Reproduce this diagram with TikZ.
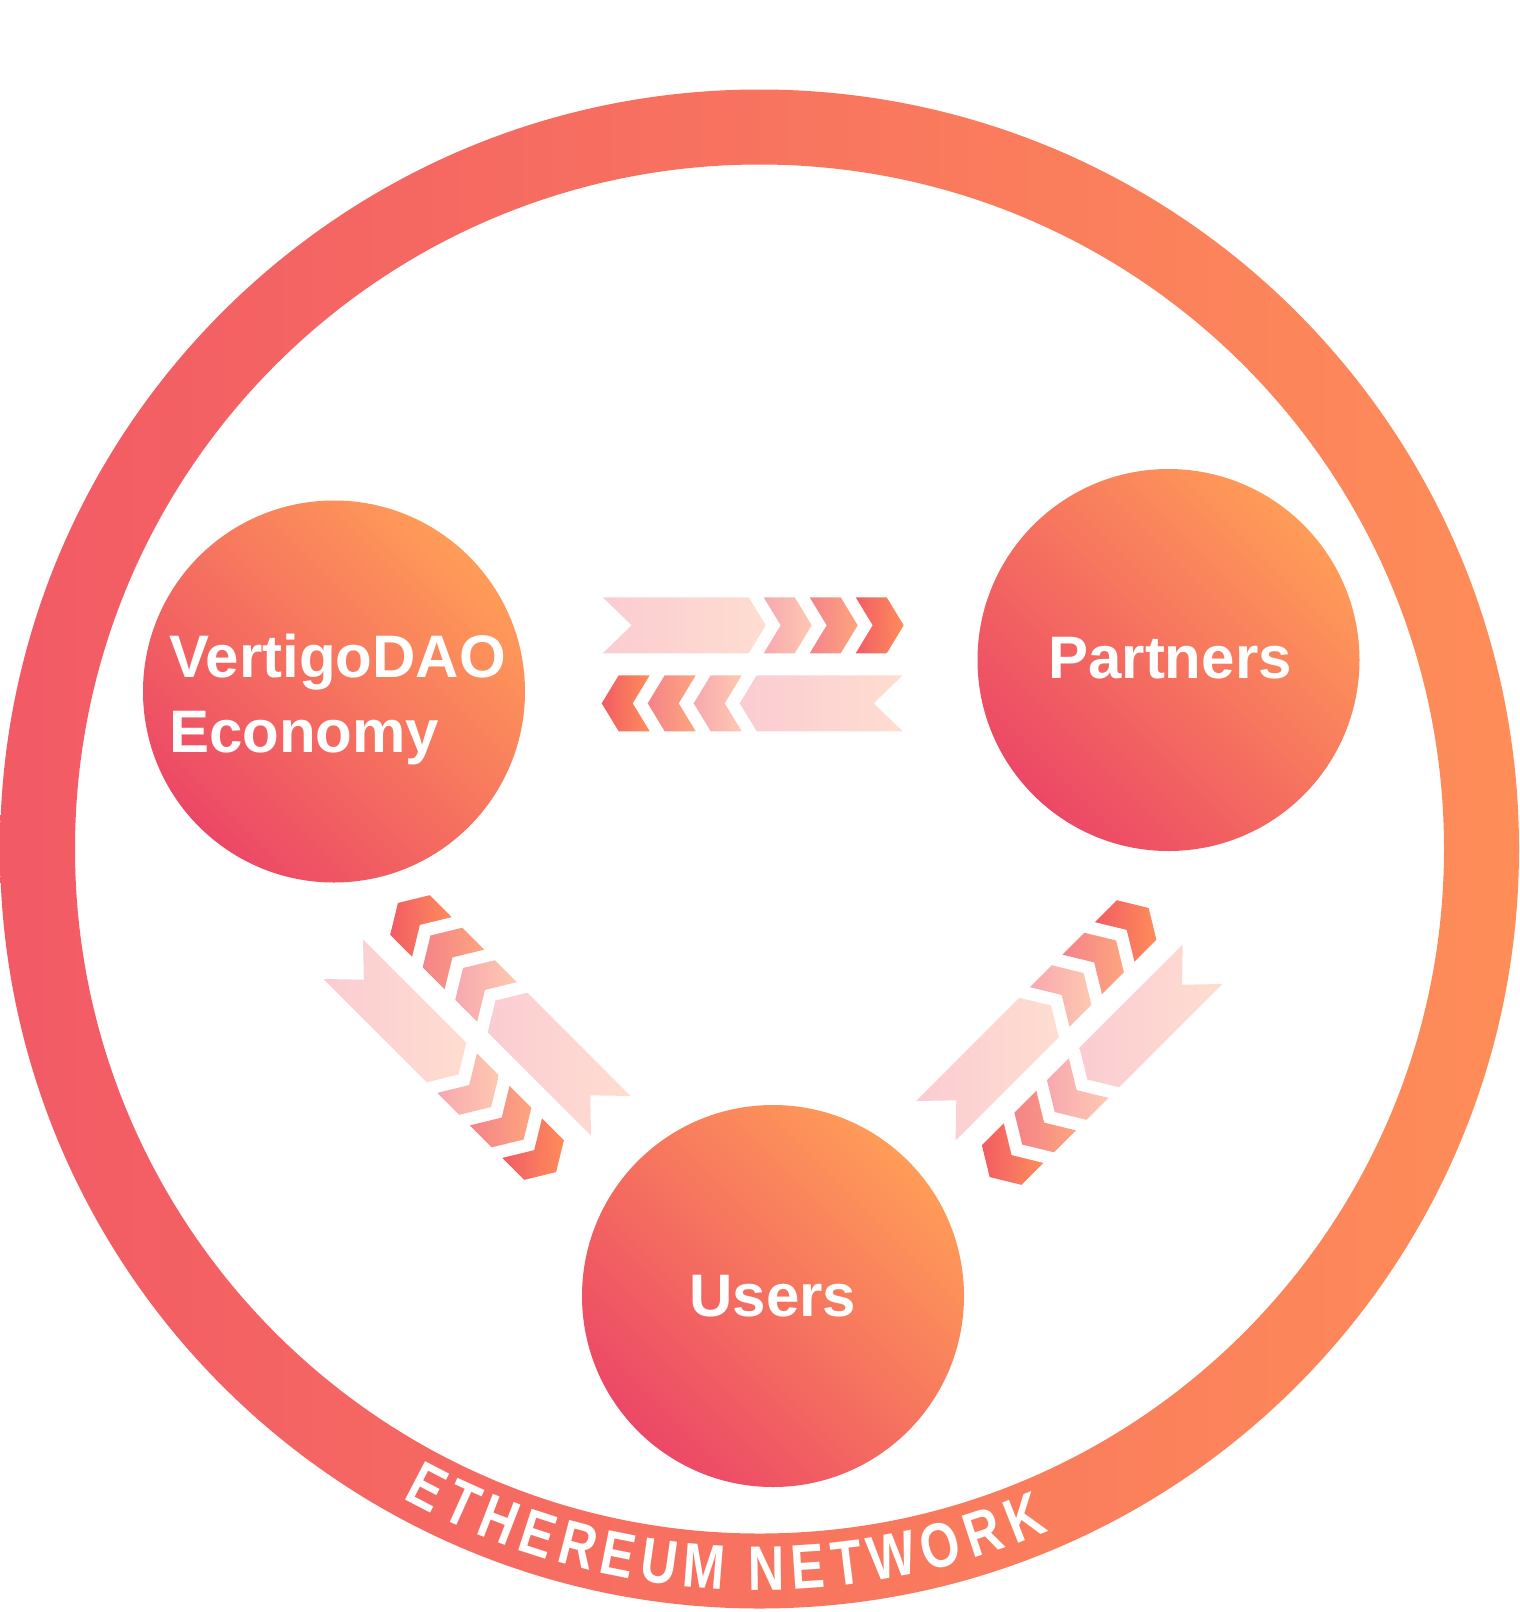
\documentclass[tikz,border=0pt]{standalone}
\usepackage{fontspec}
\setmainfont{Liberation Sans}
\newfontfamily\ringfont[FakeStretch=0.8]{Liberation Sans Bold}
\usetikzlibrary{positioning}
\definecolor{ringL}{HTML}{F25A66}
\definecolor{ringR}{HTML}{FE8D58}
\definecolor{hubL}{HTML}{EC4866}
\definecolor{hubR}{HTML}{FF9C58}
\definecolor{bandL}{HTML}{FBCCD2}
\definecolor{bandR}{HTML}{FEDDD0}
\definecolor{chevAL}{HTML}{F7A8AF}
\definecolor{chevAR}{HTML}{FEC8B0}
\definecolor{chevBL}{HTML}{F5838A}
\definecolor{chevBR}{HTML}{FDA57E}
\definecolor{chevCL}{HTML}{F25C64}
\definecolor{chevCR}{HTML}{FE8D5A}
\newcommand{\flowband}[2]{%
  \begin{scope}[shift={#1}, rotate=#2]
    \shade[band] (0,-28) -- (146,-28) -- (163,0) -- (146,28) -- (0,28) -- (29,0) -- cycle;
    \foreach \k/\cl/\cr in {0/chevAL/chevAR, 1/chevBL/chevBR, 2/chevCL/chevCR}
      \shade[left color=\cl, right color=\cr] ({161+46*\k},-28) -- ++(31,0) -- ++(17,28)
        -- ++(-17,28) -- ++(-31,0) -- ++(17,-28) -- cycle;
  \end{scope}}

\begin{document}
\begin{tikzpicture}[x=1pt, y=-1pt]
\tikzstyle{hub}=[circle, minimum size=382pt, inner sep=0pt, left color=hubL, right color=hubR,
  shading angle=135]
\tikzstyle{hubtext}=[text=white, inner sep=0pt, font=\bfseries\fontsize{60}{75}\selectfont]
\tikzstyle{ring}=[even odd rule, left color=ringL, right color=ringR]
\tikzstyle{ringletter}=[text=white, inner sep=0pt, anchor=base, font=\ringfont\fontsize{63}{63}\selectfont]
\tikzstyle{band}=[left color=bandL, right color=bandR]
  \useasboundingbox (0,0) rectangle (1519,1612);
  \coordinate (net) at (759.5,849);
  \shade[ring] (net) circle[radius=759.5] (net) circle[radius=684.5];
  \foreach \ch/\ang [count=\i] in {E/117.49, T/114.39, H/111.19, E/107.89, R/104.59, E/101.30,
      U/98.00, M/94.42, N/89.43, E/86.13, T/83.02, W/79.40, O/75.45, R/71.90, K/68.40}
    \path (net) ++(\ang:741) node[ringletter, rotate={90-\ang}] (net-\i) {\ch};
  \node[hub] (vdao) at (334,691.5) {};
  \node[hubtext, align=left, anchor=north west] (vdao-text) at ([shift={(-165,-58)}]vdao) {VertigoDAO\\Economy};
  \node[hub] (partners) at (1168.5,660) {};
  \node[hubtext] (partners-text) at ([shift={(1.5,-2)}]partners) {Partners};
  \node[hub] (users) at (773,1296) {};
  \node[hubtext] (users-text) at (users) {Users};
  \coordinate (vp-out) at (602.7,625.3);
  \coordinate (vp-in) at (902.7,703.3);
  \coordinate (vu-out) at (343.3,959.2);
  \coordinate (vu-in) at (610.8,1115.8);
  \coordinate (up-out) at (935.8,1120.8);
  \coordinate (up-in) at (1202.5,964.2);
  \flowband{(vp-out)}{0}
  \flowband{(vp-in)}{180}
  \flowband{(vu-out)}{-45}
  \flowband{(vu-in)}{135}
  \flowband{(up-out)}{45}
  \flowband{(up-in)}{-135}
\end{tikzpicture}
\end{document}
